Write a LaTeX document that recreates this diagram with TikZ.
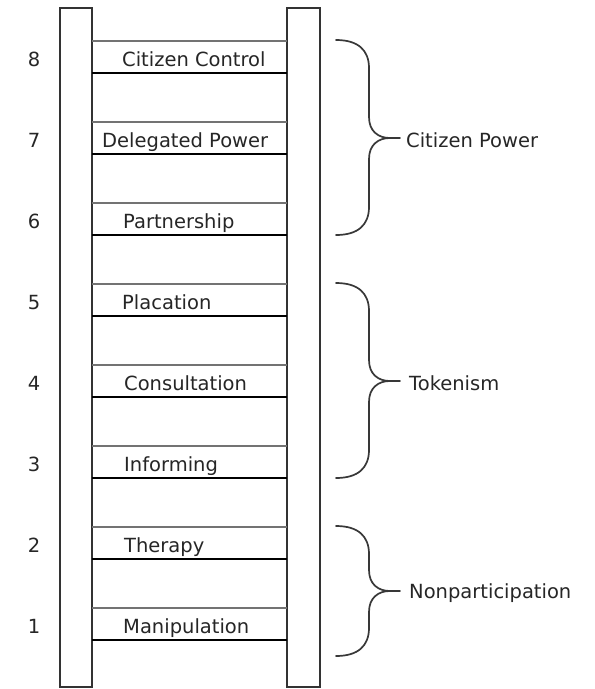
\documentclass[tikz,border=0pt]{standalone}
\usepackage{fontspec}
\setmainfont{DejaVu Sans}
\begin{document}
\begin{tikzpicture}[x=1pt,y=-1pt,
  rail/.style={draw=black!80,line width=1.8pt,fill=white},
  rungtop/.style={draw=black!55,line width=1.8pt},
  rungbot/.style={draw=black,line width=2.2pt},
  lbl/.style={anchor=base west,inner sep=0pt,font=\fontsize{19.5}{23}\selectfont,text=black!85},
  num/.style={anchor=base,inner sep=0pt,font=\fontsize{19.5}{23}\selectfont,text=black!85},
  brace/.style={draw=black!78,line width=1.7pt,line cap=round},
  grp/.style={anchor=west,inner sep=0pt,font=\fontsize{19.5}{23}\selectfont,text=black!85}]
\useasboundingbox[fill=white] (0,0) rectangle (595,689);
% rails
\draw[rail] (60,8) rectangle (92,687);
\draw[rail] (287,8) rectangle (320,687);
% rungs
\foreach \k [evaluate=\k as \t using {41+(8-\k)*81}] in {1,...,8}{
  \draw[rungtop] (92,\t) -- (287,\t);
  \draw[rungbot] (92,\t+32) -- (287,\t+32);
  \node[num] (n\k) at (34,\t+25) {\k};
}
% rung labels
\node[lbl] (r8) at (122,66) {Citizen Control};
\node[lbl] (r7) at (102,147) {Delegated Power};
\node[lbl] (r6) at (123,228) {Partnership};
\node[lbl] (r5) at (122,309) {Placation};
\node[lbl] (r4) at (124,390) {Consultation};
\node[lbl] (r3) at (124,471) {Informing};
\node[lbl] (r2) at (124,552) {Therapy};
\node[lbl] (r1) at (123,633) {Manipulation};
% braces
\foreach \tp/\md/\bt/\nm/\dx/\txt in {40/138/235/g3/6/Citizen Power,283/381/478/g2/9/Tokenism,526/591/656/g1/9/Nonparticipation}{
  \draw[brace] (336,\tp) .. controls (358,\tp) and (369,\tp+10) .. (369,\tp+28)
     -- (369,\md-21) .. controls (369,\md-7) and (378,\md) .. (390,\md) -- (400,\md);
  \draw[brace] (390,\md) .. controls (378,\md) and (369,\md+7) .. (369,\md+21)
     -- (369,\bt-28) .. controls (369,\bt-10) and (358,\bt) .. (336,\bt);
  \coordinate (\nm tip) at (400,\md);
  \node[grp] (\nm) at ([xshift=\dx pt,yshift=-2pt]\nm tip) {\txt};
}
\end{tikzpicture}
\end{document}
